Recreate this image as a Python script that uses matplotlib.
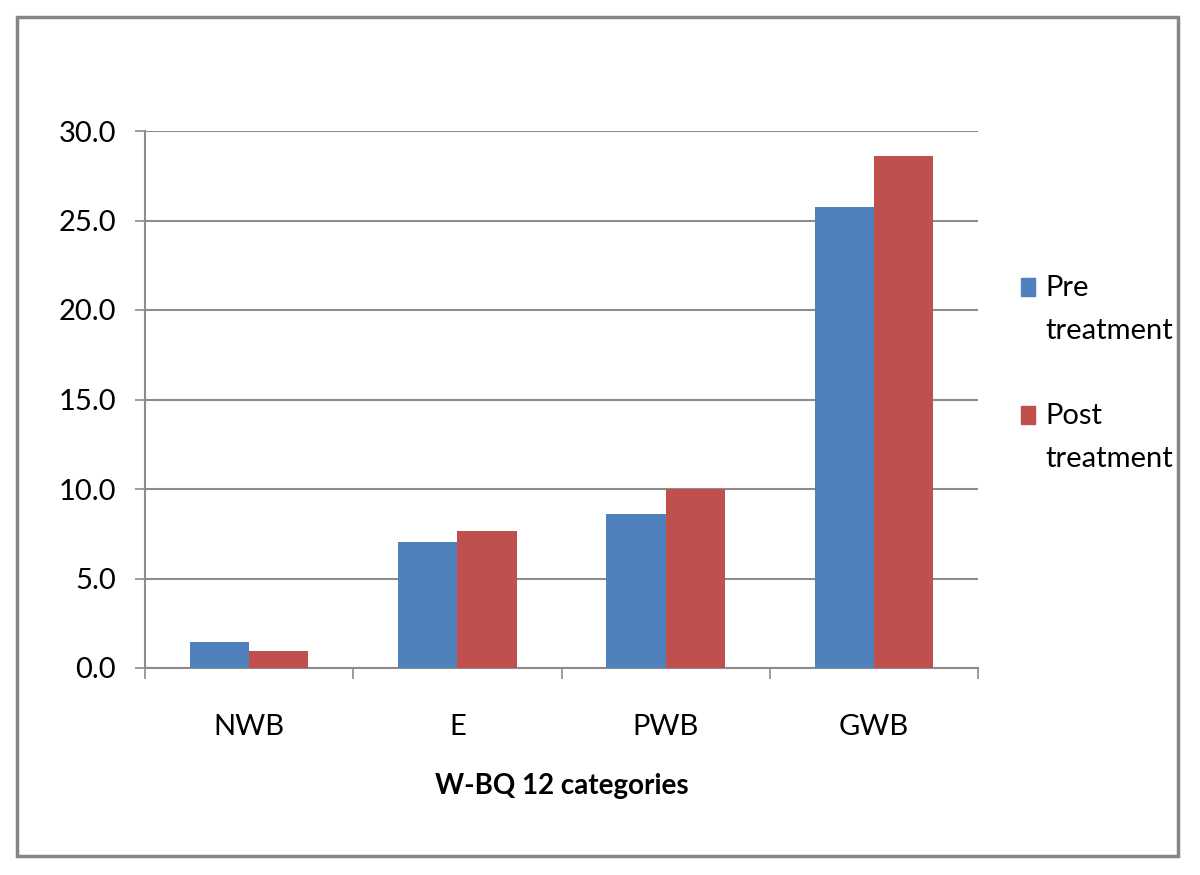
import numpy as np
import matplotlib.pyplot as plt
from matplotlib.patches import Rectangle

categories = ["NWB", "E", "PWB", "GWB"]
pre_treatment = [1.43, 7.04, 8.58, 25.77]
post_treatment = [0.96, 7.68, 10.0, 28.63]
series_labels = ["Pre treatment", "Post treatment"]
series_colors = ["#4f81bd", "#c0504d"]
y_ticks = [0, 5, 10, 15, 20, 25, 30]

plt.rcParams["font.family"] = ["Lato", "DejaVu Sans"]
FS = 21

fig = plt.figure(figsize=(12, 8.75), dpi=100)
# outer chart border
fig.patches.append(Rectangle((17 / 1200, 1 - 856 / 875), 1161 / 1200, 839 / 875,
                             transform=fig.transFigure, fill=False,
                             edgecolor="#868686", linewidth=2.5))

ax = fig.add_axes([145 / 1200, 1 - 668 / 875, 833 / 1200, 537 / 875])

x = np.arange(len(categories))
w = 0.284
ax.bar(x - w / 2, pre_treatment, w, color=series_colors[0], zorder=3)
ax.bar(x + w / 2, post_treatment, w, color=series_colors[1], zorder=3)

ax.set_xlim(-0.5, len(categories) - 0.5)
ax.set_ylim(0, 30)
ax.set_yticks(y_ticks)
ax.set_yticklabels([f"{v:.1f}" for v in y_ticks], fontsize=FS)
ax.yaxis.grid(True, color="#8c8c8c", linewidth=1.5, zorder=0)

ax.set_xticks(np.arange(-0.5, len(categories), 1.0))
ax.set_xticklabels([])
ax.set_xticks(x, minor=True)
ax.set_xticklabels(categories, minor=True, fontsize=FS)
ax.tick_params(axis="x", which="minor", length=0, pad=33)
ax.tick_params(axis="x", which="major", length=8, width=1.2, color="#8c8c8c", direction="out")
ax.tick_params(axis="y", length=7, width=1.2, color="#8c8c8c", direction="out", pad=14)

for side in ["top", "right"]:
    ax.spines[side].set_visible(False)
for side in ["left", "bottom"]:
    ax.spines[side].set_color("#8c8c8c")
    ax.spines[side].set_linewidth(1.5)

ax.set_xlabel("W-BQ 12 categories", fontsize=20, fontweight="bold", labelpad=24)

# legend drawn at the right, each label wrapped onto two lines
for i, (lab, col) in enumerate(zip(series_labels, series_colors)):
    top = 278 + i * 128
    fig.patches.append(Rectangle((1021 / 1200, 1 - (top + 18) / 875), 14 / 1200, 18 / 875,
                                 transform=fig.transFigure, color=col))
    for j, word in enumerate(lab.split(" ")):
        fig.text(1045 / 1200, 1 - (top + 18 + j * 43) / 875, word, fontsize=FS,
                 va="baseline", ha="left")

fig.savefig("out.png", dpi=100)
